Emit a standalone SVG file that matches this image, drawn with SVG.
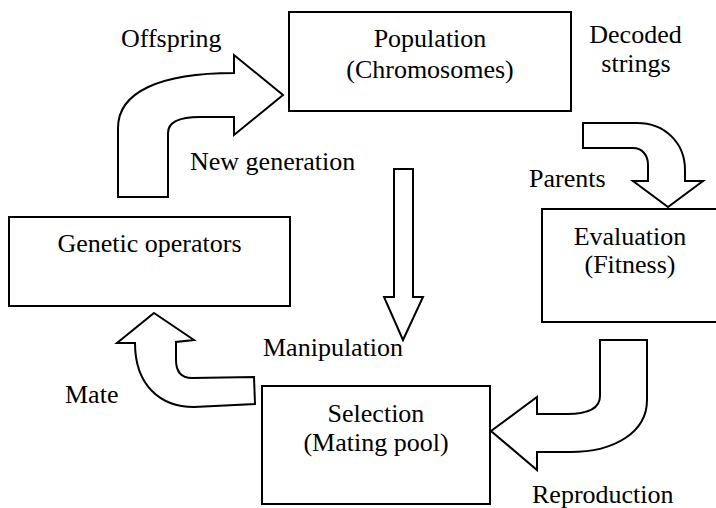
<svg xmlns="http://www.w3.org/2000/svg" width="716" height="508" viewBox="0 0 716 508">
<style>
.box{fill:#fff;stroke:#000;stroke-width:2}
.arr{fill:#fff;stroke:#000;stroke-width:2;stroke-linejoin:miter}
.c{text-anchor:middle}
</style>
<rect width="716" height="508" fill="#fff"/>
<g id="connectors">
<path class="arr" d="M118,197 L118,128 C118,92 160,73 234,73 L234,55 L283,95 L234,135 L234,117 L200,117 C180,117 168,122 168,133 L168,197 Z"/>
<path class="arr" d="M583,123 L637,123 C665,123 685,143 685,170 L685,181 L703,181 L668,207 L633,181 L648,181 L648,165 C648,155 642,148 633,148 L583,148 Z"/>
<path class="arr" d="M394,169 L413,169 L413,297 L423,297 L403,340 L384,297 L394,297 Z"/>
<path class="arr" d="M600,340 L647,340 L647,400 C647,432 615,452 570,452 L537,452 L537,470 L491,431 L537,397 L537,414 L567,414 C588,414 600,408 600,396 Z"/>
<path class="arr" d="M154,313 L194,340 L176,342 L176,360 C176,372 182,378 192,378 L254,377 L255,404 L194,407 C160,407 135,385 135,343 L117,343 Z"/>
</g>
<g font-family="Liberation Serif, serif" font-size="26" fill="#000">
<g id="labels">
<text x="121" y="47">Offspring</text>
<text x="190" y="170">New generation</text>
<text class="c" x="635.5" y="43">Decoded</text>
<text class="c" x="636" y="72">strings</text>
<text x="529" y="187">Parents</text>
<text x="263" y="356">Manipulation</text>
<text x="65" y="403">Mate</text>
<text x="532" y="503">Reproduction</text>
</g>
<g id="population">
<rect class="box" x="289" y="12" width="282" height="99"/>
<text class="c" x="430" y="47">Population</text>
<text class="c" x="430" y="78">(Chromosomes)</text>
</g>
<g id="evaluation">
<rect class="box" x="542" y="209" width="178" height="113"/>
<text class="c" x="630" y="245">Evaluation</text>
<text class="c" x="630" y="273">(Fitness)</text>
</g>
<g id="genetic">
<rect class="box" x="9" y="217" width="281" height="89"/>
<text class="c" x="149.5" y="252">Genetic operators</text>
</g>
<g id="selection">
<rect class="box" x="262" y="386" width="228" height="118"/>
<text class="c" x="376" y="422">Selection</text>
<text class="c" x="376" y="451">(Mating pool)</text>
</g>
</g>
</svg>
